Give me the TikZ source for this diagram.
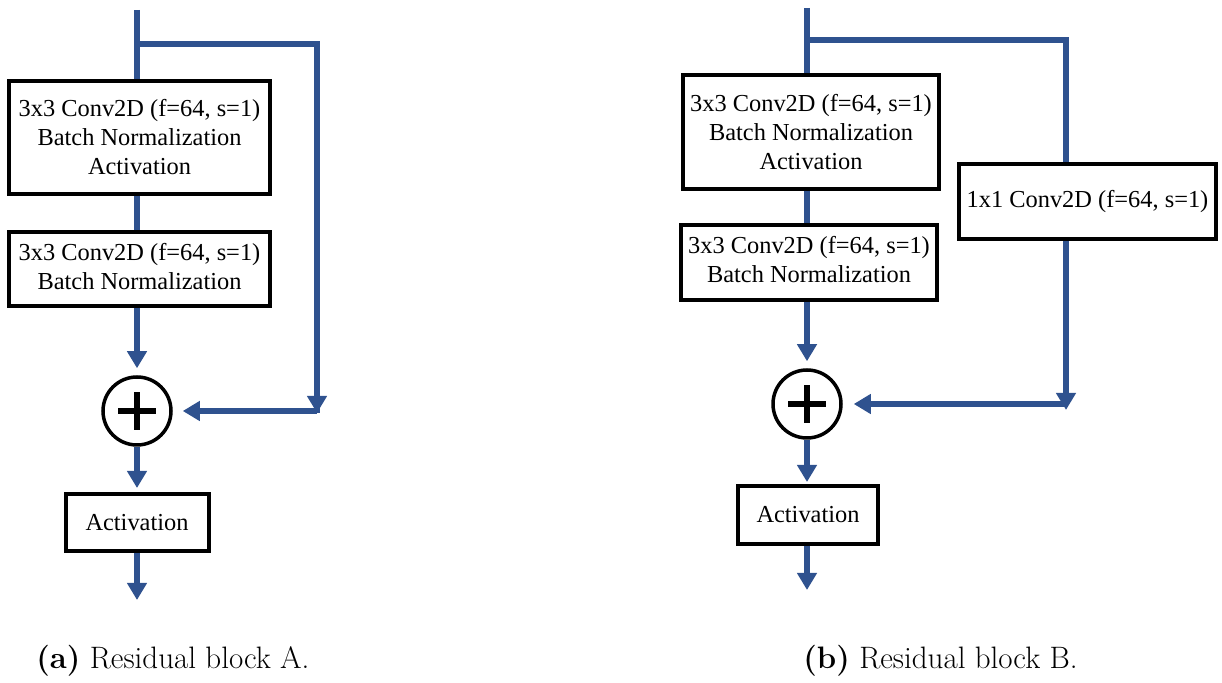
\documentclass[tikz,border=0pt]{standalone}
\usepackage{fontspec}
\newfontfamily\boxfont{Liberation Serif}
\usetikzlibrary{arrows.meta}
\definecolor{flow}{RGB}{47,82,143}
\newcommand{\uplines}[2]{\raisebox{#1}{\begin{tabular}{@{}c@{}}#2\end{tabular}}}
\begin{document}
\begin{tikzpicture}[x=0.5pt,y=-0.5pt,
  blk/.style={draw=black,line width=2pt,fill=white,align=center,inner sep=0pt,
    font=\boxfont\fontsize{12.2}{14.5}\selectfont},
  flowline/.style={draw=flow,line width=3pt},
  flowarrow/.style={flowline,-{Triangle[width=9.5pt,length=8.5pt]}},
  sumnode/.style={circle,draw=black,line width=1.75pt,minimum size=34pt,inner sep=0pt,fill=white},
  plusbar/.style={draw=black,line width=2.6pt},
  captext/.style={anchor=base west,inner sep=0pt,font=\fontsize{15.5}{18}\selectfont}]
\useasboundingbox (0,0) rectangle (1222,683);

% ---------------- (a) ----------------
\coordinate (aTop) at (137,10);
\coordinate (aSplit) at (137,44);
\coordinate (aRt) at (317,413);
\coordinate (aR) at (317,411);
\coordinate (aEnd) at (137,600);
\node[blk,minimum width=130.5pt,minimum height=56.5pt] (aBox1) at (139.5,137.5)
  {3x3 Conv2D (f=64, s=1)\\Batch Normalization\\Activation};
\node[blk,minimum width=130.5pt,minimum height=37pt] (aBox2) at (139.5,269)
  {\uplines{2pt}{3x3 Conv2D (f=64, s=1)\\Batch Normalization}};
\node[sumnode] (aSum) at (137,411) {};
\draw[plusbar] ([xshift=-9.5pt]aSum.center) -- ([xshift=9.5pt]aSum.center);
\draw[plusbar] ([yshift=-9.5pt]aSum.center) -- ([yshift=9.5pt]aSum.center);
\node[blk,minimum width=71.5pt,minimum height=28.5pt] (aAct) at (137,522.5) {Activation};

\draw[flowline] (aTop) -- (aTop |- aBox1.north);
\draw[flowline] (aSplit) -| (aRt);
\draw[flowarrow] (aRt |- aSplit) -- (aRt);
\draw[flowline] (aBox1.south -| aTop) -- (aBox2.north -| aTop);
\draw[flowarrow,shorten >=3.5pt] (aBox2.south -| aTop) -- (aSum);
\draw[flowarrow,shorten >=5pt] (aR) -- (aSum);
\draw[flowarrow,shorten >=2pt] (aSum) -- (aAct);
\draw[flowarrow] (aAct) -- (aEnd);

% ---------------- (b) ----------------
\coordinate (bTop) at (807,8);
\coordinate (bSplit) at (807,40);
\coordinate (bX) at (1066,40);
\coordinate (bRt) at (1066,410);
\coordinate (bR) at (1066,404);
\coordinate (bEnd) at (807,590);
\node[blk,minimum width=128pt,minimum height=57pt] (bBox1) at (811,132)
  {3x3 Conv2D (f=64, s=1)\\Batch Normalization\\Activation};
\node[blk,minimum width=128pt,minimum height=37.5pt] (bBox2) at (809,262.5)
  {\uplines{2pt}{3x3 Conv2D (f=64, s=1)\\Batch Normalization}};
\node[blk,minimum width=128.5pt,minimum height=37.5pt] (b11) at (1087.5,201.5)
  {1x1 Conv2D (f=64, s=1)};
\node[sumnode] (bSum) at (807,404) {};
\draw[plusbar] ([xshift=-9.5pt]bSum.center) -- ([xshift=9.5pt]bSum.center);
\draw[plusbar] ([yshift=-9.5pt]bSum.center) -- ([yshift=9.5pt]bSum.center);
\node[blk,minimum width=70pt,minimum height=29pt] (bAct) at (808,515) {Activation};

\draw[flowline] (bTop) -- (bTop |- bBox1.north);
\draw[flowline] (bSplit) -- (bX) -- (bX |- b11.north);
\draw[flowarrow] (bX |- b11.south) -- (bRt);
\draw[flowline] (bBox1.south -| bTop) -- (bBox2.north -| bTop);
\draw[flowarrow,shorten >=3.5pt] (bBox2.south -| bTop) -- (bSum);
\draw[flowarrow,shorten >=5.5pt] (bR) -- (bSum);
\draw[flowarrow,shorten >=1pt] (bSum) -- (bAct.north -| bSum);
\draw[flowarrow] (bAct.south -| bSum) -- (bEnd);

% captions
\node[captext] (capA) at (36,669) {\textbf{(a)} Residual block A.};
\node[captext] (capB) at (803,669) {\textbf{(b)} Residual block B.};
\end{tikzpicture}
\end{document}
